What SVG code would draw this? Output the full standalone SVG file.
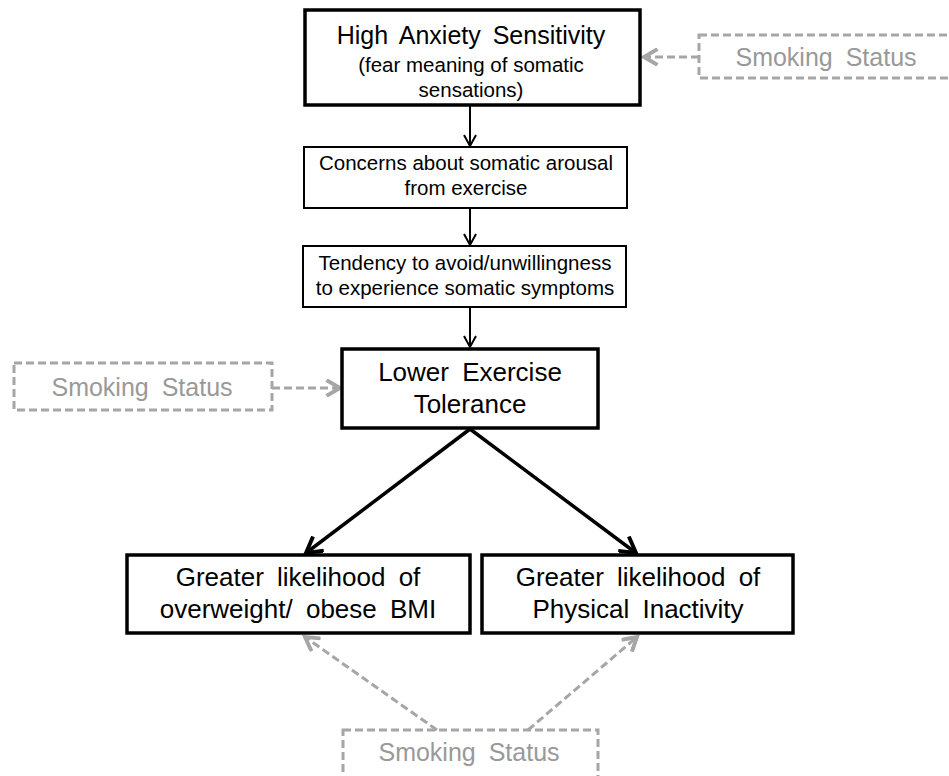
<svg xmlns="http://www.w3.org/2000/svg" width="949" height="776" viewBox="0 0 949 776">
<style>
  .box{fill:#fff;stroke:#000;stroke-width:3.5}
  .sbox{fill:#fff;stroke:#000;stroke-width:2}
  .dbox{fill:none;stroke:#a6a6a6;stroke-width:3;stroke-dasharray:8 4}
  .t{font-family:"Liberation Sans",Arial,sans-serif;fill:#000;text-anchor:middle}
  .g{font-family:"Liberation Sans",Arial,sans-serif;fill:#999;text-anchor:middle;font-size:25px;word-spacing:6px}
  .big{font-size:25px;word-spacing:5px}
  .big2{font-size:26px;word-spacing:6px}
  .mid{font-size:20.5px}
  .blk{stroke:#000;fill:none}
  .gry{stroke:#a6a6a6;fill:none;stroke-width:3;stroke-dasharray:8 4}
</style>
<defs>
  <marker id="ab" markerUnits="userSpaceOnUse" markerWidth="16" markerHeight="16" refX="12" refY="7" orient="auto" viewBox="0 0 16 14">
    <path d="M1,1 L12,7 L1,13" fill="none" stroke="#000" stroke-width="2"/>
  </marker>
  <marker id="abl" markerUnits="userSpaceOnUse" markerWidth="20" markerHeight="20" refX="15" refY="9" orient="auto" viewBox="0 0 18 18">
    <path d="M1,1 L15,9 L1,17" fill="none" stroke="#000" stroke-width="3.5"/>
  </marker>
  <marker id="ag" markerUnits="userSpaceOnUse" markerWidth="18" markerHeight="18" refX="13" refY="8" orient="auto" viewBox="0 0 16 16">
    <path d="M1,1 L13,8 L1,15" fill="none" stroke="#a6a6a6" stroke-width="3.5"/>
  </marker>
</defs>

<g id="connectors">
  <line class="blk" stroke-width="2" x1="470" y1="106" x2="470" y2="146" marker-end="url(#ab)"/>
  <line class="blk" stroke-width="2" x1="470" y1="208" x2="470" y2="245" marker-end="url(#ab)"/>
  <line class="blk" stroke-width="2" x1="470" y1="307" x2="470" y2="347" marker-end="url(#ab)"/>
  <line class="blk" stroke-width="3.5" x1="470" y1="429" x2="306" y2="553" marker-end="url(#abl)"/>
  <line class="blk" stroke-width="3.5" x1="470" y1="429" x2="636" y2="553" marker-end="url(#abl)"/>
  <line class="gry" x1="699" y1="57" x2="644" y2="57" marker-end="url(#ag)"/>
  <line class="gry" x1="272" y1="388" x2="340" y2="388" marker-end="url(#ag)"/>
  <line class="gry" x1="437" y1="730" x2="305" y2="637" marker-end="url(#ag)"/>
  <line class="gry" x1="528" y1="730" x2="637" y2="637" marker-end="url(#ag)"/>
</g>

<g id="high-anxiety">
  <rect class="box" x="305" y="10" width="335" height="95"/>
  <text class="t big" x="471" y="44">High Anxiety Sensitivity</text>
  <text class="t mid" x="471" y="72" font-size="21">(fear meaning of somatic</text>
  <text class="t mid" x="471" y="97" font-size="21">sensations)</text>
</g>

<g id="concerns">
  <rect class="sbox" x="304" y="147" width="323" height="61"/>
  <text class="t mid" x="466" y="170">Concerns about somatic arousal</text>
  <text class="t mid" x="466" y="195">from exercise</text>
</g>

<g id="tendency">
  <rect class="sbox" x="303" y="246" width="323" height="61"/>
  <text class="t mid" x="465" y="270">Tendency to avoid/unwillingness</text>
  <text class="t mid" x="465" y="295">to experience somatic symptoms</text>
</g>

<g id="lower-exercise">
  <rect class="box" x="342" y="349" width="256" height="79"/>
  <text class="t big2" x="470" y="381">Lower Exercise</text>
  <text class="t big2" x="470" y="413">Tolerance</text>
</g>

<g id="bmi">
  <rect class="box" x="127" y="555" width="343" height="78"/>
  <text class="t big2" x="298" y="586">Greater likelihood of</text>
  <text class="t big2" x="298" y="618">overweight/ obese BMI</text>
</g>

<g id="inactivity">
  <rect class="box" x="482" y="555" width="311" height="78"/>
  <text class="t big2" x="638" y="586">Greater likelihood of</text>
  <text class="t big2" x="638" y="618">Physical Inactivity</text>
</g>

<g id="smoking-top">
  <rect class="dbox" x="699" y="35" width="265" height="43"/>
  <text class="g" x="826" y="66">Smoking Status</text>
</g>

<g id="smoking-left">
  <rect class="dbox" x="14" y="363" width="258" height="47"/>
  <text class="g" x="142" y="396">Smoking Status</text>
</g>

<g id="smoking-bottom">
  <rect class="dbox" x="343" y="730" width="255" height="60"/>
  <text class="g" x="469" y="761">Smoking Status</text>
</g>
</svg>
